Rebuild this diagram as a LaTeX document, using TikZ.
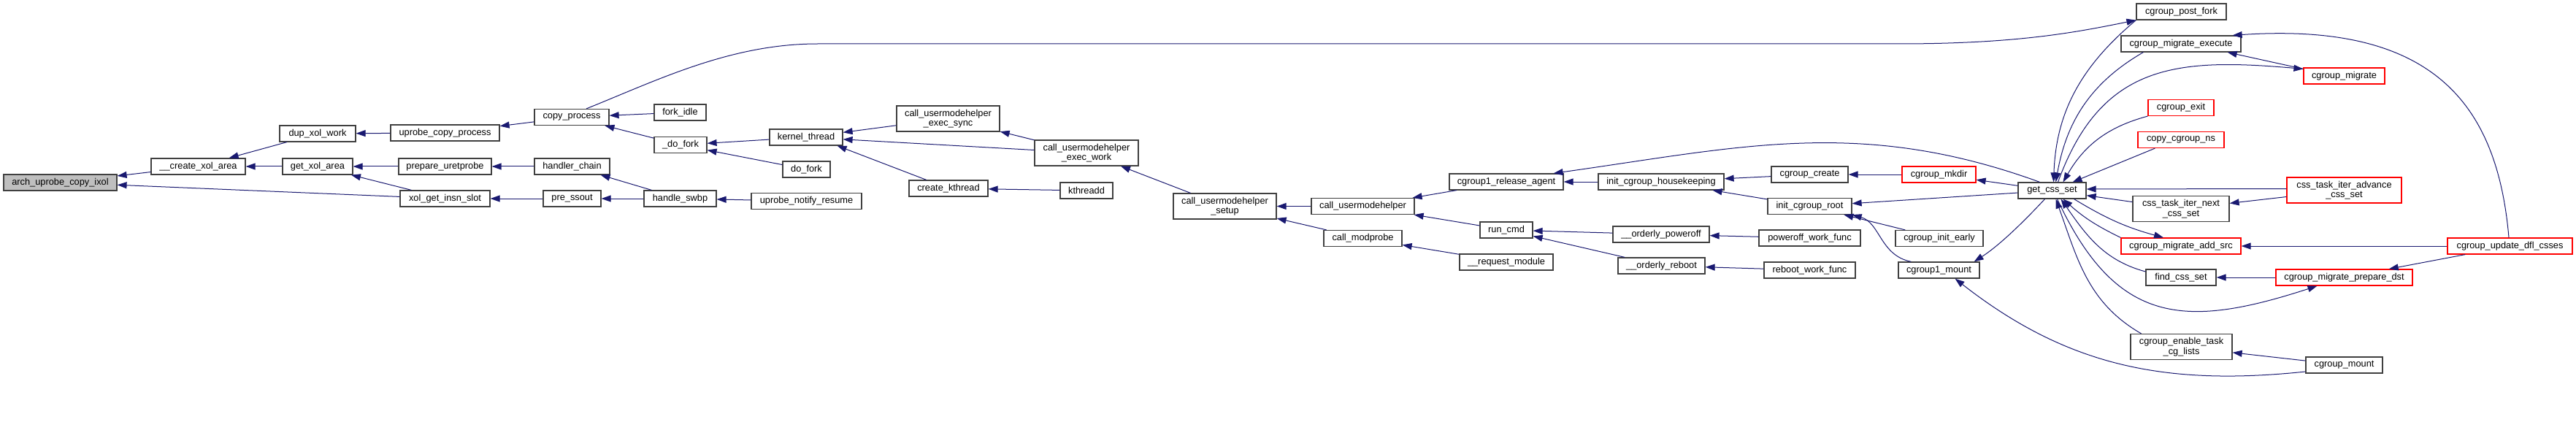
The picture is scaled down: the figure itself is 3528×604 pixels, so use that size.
\documentclass[tikz,border=0pt]{standalone}
\usepackage{fontspec}
\setmainfont{Liberation Sans}
\usepackage{tikz}
\usetikzlibrary{arrows.meta}
\definecolor{edgeblue}{HTML}{191970}
\definecolor{boxgray}{HTML}{404040}
\definecolor{rootgray}{HTML}{BFBFBF}

\begin{document}
\begin{tikzpicture}[x=1pt, y=1pt,
  fnbox/.style={rectangle, draw=boxgray, fill=white, line width=1.2pt,
    minimum height=22, inner sep=0pt, align=center,
    font=\fontsize{12.8}{13.5}\selectfont},
  redbox/.style={fnbox, draw=red},
  rootbox/.style={fnbox, fill=rootgray},
  tall/.style={minimum height=35},
  call/.style={<-, >={Triangle[length=13pt, width=9pt]}, draw=edgeblue, line width=1pt}
]
  \useasboundingbox (0,0) rectangle (3528,-604);

  \node[rootbox, minimum width=155] (arch) at (82.5,-250) {arch\_uprobe\_copy\_ixol};
  \node[fnbox, minimum width=129] (cxa)  at (271.5,-228) {\_\_create\_xol\_area};
  \node[fnbox, minimum width=104] (dxw)  at (435,-183)   {dup\_xol\_work};
  \node[fnbox, minimum width=96]  (gxa)  at (435,-228)   {get\_xol\_area};
  \node[fnbox, minimum width=149] (ucp)  at (609.5,-182) {uprobe\_copy\_process};
  \node[fnbox, minimum width=127] (pur)  at (609.5,-228) {prepare\_uretprobe};
  \node[fnbox, minimum width=123] (xgis) at (609.5,-272) {xol\_get\_insn\_slot};
  \node[fnbox, minimum width=102] (cp)   at (783,-160.5) {copy\_process};
  \node[fnbox, minimum width=103] (hc)   at (783.5,-228) {handler\_chain};
  \node[fnbox, minimum width=79]  (pss)  at (783.5,-272) {pre\_ssout};
  \node[fnbox, minimum width=71]  (fidle) at (931.5,-154) {fork\_idle};
  \node[fnbox, minimum width=72]  (udf)  at (932,-198.5) {\_do\_fork};
  \node[fnbox, minimum width=99]  (hs)   at (931.5,-272) {handle\_swbp};
  \node[fnbox, minimum width=100] (kt)   at (1104,-188)  {kernel\_thread};
  \node[fnbox, minimum width=65]  (dofork) at (1104.5,-232) {do\_fork};
  \node[fnbox, minimum width=151] (unr)  at (1104.5,-275.5) {uprobe\_notify\_resume};
  \node[fnbox, tall, minimum width=141] (cues) at (1298.5,-162.5) {call\_usermodehelper\\\_exec\_sync};
  \node[fnbox, minimum width=108] (ck)   at (1299,-258)  {create\_kthread};
  \node[fnbox, tall, minimum width=142] (cuew) at (1488,-209.5) {call\_usermodehelper\\\_exec\_work};
  \node[fnbox, minimum width=72]  (ktd)  at (1488,-261)  {kthreadd};
  \node[fnbox, tall, minimum width=141] (cus) at (1677.5,-282.5) {call\_usermodehelper\\\_setup};
  \node[fnbox, minimum width=141] (cu)   at (1866.5,-282.5) {call\_usermodehelper};
  \node[fnbox, minimum width=107] (cmp)  at (1866.5,-326.5) {call\_modprobe};
  \node[fnbox, minimum width=156] (cra)  at (2063,-249)  {cgroup1\_release\_agent};
  \node[fnbox, minimum width=72]  (rc)   at (2063,-315)  {run\_cmd};
  \node[fnbox, minimum width=128] (rm)   at (2063,-359)  {\_\_request\_module};
  \node[fnbox, minimum width=172] (ich)  at (2275,-249)  {init\_cgroup\_housekeeping};
  \node[fnbox, minimum width=132] (op)   at (2275,-321)  {\_\_orderly\_poweroff};
  \node[fnbox, minimum width=119] (orb)  at (2275.5,-364) {\_\_orderly\_reboot};
  \node[fnbox, minimum width=105] (cc)   at (2478.5,-239) {cgroup\_create};
  \node[fnbox, minimum width=115] (icr)  at (2478.5,-282.5) {init\_cgroup\_root};
  \node[fnbox, minimum width=139] (pwf)  at (2478.5,-326) {poweroff\_work\_func};
  \node[fnbox, minimum width=125] (rwf)  at (2478.5,-370) {reboot\_work\_func};
  \node[redbox, minimum width=101] (cmk) at (2655.5,-239) {cgroup\_mkdir};
  \node[fnbox, minimum width=120] (cie)  at (2656,-326.5) {cgroup\_init\_early};
  \node[fnbox, minimum width=111] (c1m)  at (2655.5,-370) {cgroup1\_mount};
  \node[fnbox, minimum width=93]  (gcs)  at (2810.5,-261) {get\_css\_set};
  \node[fnbox, minimum width=123] (cpf)  at (2987.5,-16) {cgroup\_post\_fork};
  \node[fnbox, minimum width=164] (cme)  at (2987,-60)   {cgroup\_migrate\_execute};
  \node[redbox, minimum width=90] (cex)  at (2987,-147.5) {cgroup\_exit};
  \node[redbox, minimum width=118] (ccn) at (2987,-191.5) {copy\_cgroup\_ns};
  \node[fnbox, tall, minimum width=132] (ctin) at (2987,-286) {css\_task\_iter\_next\\\_css\_set};
  \node[redbox, minimum width=164] (cmas) at (2987,-337) {cgroup\_migrate\_add\_src};
  \node[fnbox, minimum width=96]  (fcs)  at (2987,-380)  {find\_css\_set};
  \node[fnbox, tall, minimum width=139] (cetc) at (2987.5,-475) {cgroup\_enable\_task\\\_cg\_lists};
  \node[redbox, minimum width=111] (cmg) at (3210.5,-104) {cgroup\_migrate};
  \node[redbox, tall, minimum width=157] (ctia) at (3210.5,-260.5) {css\_task\_iter\_advance\\\_css\_set};
  \node[redbox, minimum width=187] (cmpd) at (3210.5,-380) {cgroup\_migrate\_prepare\_dst};
  \node[fnbox, minimum width=105] (cmt)  at (3210.5,-500) {cgroup\_mount};
  \node[redbox, minimum width=171] (cudc) at (3437.5,-337) {cgroup\_update\_dfl\_csses};

  \draw[call] (arch) -- (cxa);
  \draw[call] (arch) -- (xgis);
  \draw[call] (cxa)  -- (dxw);
  \draw[call] (cxa)  -- (gxa);
  \draw[call] (dxw)  -- (ucp);
  \draw[call] (gxa)  -- (pur);
  \draw[call] (gxa)  -- (xgis);
  \draw[call] (ucp)  -- (cp);
  \draw[call] (pur)  -- (hc);
  \draw[call] (xgis) -- (pss);
  \draw[call] (hc)   -- (hs);
  \draw[call] (pss)  -- (hs);
  \draw[call] (hs)   -- (unr);
  \draw[call] (cp)   -- (fidle);
  \draw[call] (cp)   -- (udf);
  \draw[call] (udf)  -- (kt);
  \draw[call] (udf)  -- (dofork);
  \draw[call] (kt)   -- (cues);
  \draw[call] (kt)   -- (cuew);
  \draw[call] ([xshift=-8]kt.south east) -- (ck);
  \draw[call] (ck)   -- (ktd);
  \draw[call] (cues) -- (cuew);
  \draw[call] (cuew) -- (cus);
  \draw[call] (cus)  -- (cu);
  \draw[call] (cus)  -- (cmp);
  \draw[call] (cu)   -- (cra);
  \draw[call] (cu)   -- (rc);
  \draw[call] (cmp)  -- (rm);
  \draw[call] (cra)  -- (ich);
  \draw[call] (rc)   -- (op);
  \draw[call] (rc)   -- (orb);
  \draw[call] (ich)  -- (cc);
  \draw[call] (ich)  -- (icr);
  \draw[call] (op)   -- (pwf);
  \draw[call] (orb)  -- (rwf);
  \draw[call] (cc)   -- (cmk);
  \draw[call] (icr)  -- (gcs);
  \draw[call] (icr)  -- (cie);
  \draw[call] (icr.south east) .. controls (2575,-305) and (2575,-350) .. ([xshift=18]c1m.north west);
  \draw[call] (cmk)  -- (gcs);
  \draw[call] ([xshift=-8]c1m.north east) .. controls (2740,-335) and (2775,-300) .. ([xshift=-10]gcs.south);
  \draw[call] ([xshift=-14]cra.north east) to[out=8, in=160] ([xshift=-17]gcs.north);

  \draw[call] (cpf.south west) .. controls (2840,-45) and (2760,-60) .. (2600,-60)
    -- (1120,-60) .. controls (1000,-60) and (900,-110) .. ([xshift=20]cp.north);
  \draw[call] ([xshift=2]gcs.north) to[out=88, in=-140] (cpf.south west);
  \draw[call] ([xshift=5]gcs.north) to[out=80, in=-150] ([xshift=31]cme.south west);
  \draw[call] ([yshift=-2]cmg.north west) to[out=175, in=70, looseness=1.2] ([xshift=8]gcs.north);
  \draw[call] ([xshift=15]gcs.north) to[out=60, in=-165] (cex.south west);
  \draw[call] ([xshift=28]gcs.north) -- ([xshift=24]ccn.south west);
  \draw[call] ([xshift=-19]cme.south east) -- ([yshift=-2]cmg.north west);
  \draw[call] ([xshift=-12]cme.north east) .. controls (3330,-30) and (3420,-140) .. ([xshift=-1.5]cudc.north);

  \draw[call] ([yshift=2]gcs.east) -- ([yshift=2]ctia.west);
  \draw[call] (gcs)  -- (ctin);
  \draw[call] (ctin) -- (ctia);
  \draw[call] ([xshift=-24]cmas.north) to[bend left=8] ([xshift=30]gcs.south);
  \draw[call] ([xshift=15]gcs.south) to[bend right=8] (cmas.north west);
  \draw[call] ([xshift=12]gcs.south) to[out=-55, in=165] ([yshift=8]fcs.west);
  \draw[call] ([xshift=-37]cmpd.south) to[out=-162, in=-65, looseness=1.3] ([xshift=7]gcs.south);
  \draw[call] ([xshift=5]gcs.south) to[out=-70, in=150] ([xshift=-55]cetc.north);
  \draw[call] (cetc) -- (cmt);
  \draw[call] ([xshift=22]c1m.south) to[out=-38, in=186] ([yshift=-9]cmt.west);
  \draw[call] (cmas) -- (cudc);
  \draw[call] (fcs)  -- (cmpd);
  \draw[call] (cmpd) -- (cudc);
\end{tikzpicture}
\end{document}
